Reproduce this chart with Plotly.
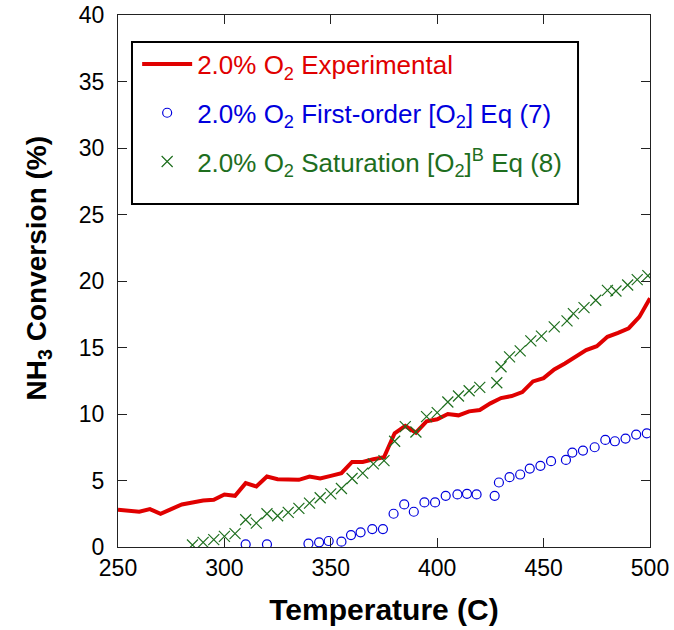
import plotly.graph_objects as go

# Experimental
exp_t = [250, 255, 260, 265, 270, 275, 280, 285, 290, 295, 300, 305, 310, 315, 320, 325, 330, 335, 340, 345,
         350, 355, 360, 365, 370, 375, 380, 385, 390, 395, 400, 405, 410, 415, 420, 425, 430, 435, 440, 445,
         450, 455, 460, 465, 470, 475, 480, 485, 490, 495, 500]
exp_y = [2.8, 2.7, 2.65, 2.85, 2.5, 2.85, 3.2, 3.35, 3.5, 3.55, 3.95, 3.85, 4.8, 4.55, 5.3, 5.1, 5.05, 5.05, 5.3, 5.15,
         5.35, 5.55, 6.4, 6.4, 6.6, 6.75, 8.55, 9.1, 8.6, 9.45, 9.6, 10.0, 9.9, 10.2, 10.3, 10.8, 11.2, 11.35, 11.65, 12.45,
         12.7, 13.35, 13.8, 14.3, 14.8, 15.1, 15.8, 16.1, 16.45, 17.3, 18.7]

# First-order model
fo_t = [310, 320, 339.5, 344.5, 349, 355, 359.5, 364, 369.5, 374.5, 379.5, 384.5, 389, 394, 399, 404, 409.5, 414,
        418.5, 427, 429, 434, 439, 443.5, 448.5, 453.5, 460.5, 463.5, 468.5, 474, 479, 483.5, 488.5, 493.5, 498.5]
fo_y = [0.2, 0.2, 0.25, 0.35, 0.45, 0.4, 0.9, 1.1, 1.35, 1.35, 2.5, 3.2, 2.65, 3.35, 3.35, 3.85, 3.95, 4.0,
        3.95, 3.85, 4.85, 5.25, 5.45, 5.9, 6.1, 6.45, 6.55, 7.1, 7.25, 7.5, 8.05, 7.95, 8.15, 8.45, 8.55]

# Saturation model
sat_t = [285, 290, 295, 300, 305, 310, 315, 320, 325, 330, 335, 340, 345, 350, 355, 360, 365, 370, 375, 380,
         385, 390, 395, 400, 405, 410, 415, 420, 428, 430, 434, 439, 444, 449, 455, 461, 464, 469, 474.5, 480,
         484, 489.5, 494, 499]
sat_y = [0.15, 0.35, 0.55, 0.8, 1.0, 2.05, 1.8, 2.5, 2.35, 2.6, 2.9, 3.3, 3.7, 4.0, 4.4, 5.15, 5.55, 6.25, 6.5, 7.95,
         9.05, 8.65, 9.8, 10.1, 10.9, 11.35, 11.75, 12.0, 12.35, 13.55, 14.3, 14.75, 15.5, 15.85, 16.55, 17.0, 17.55, 18.0, 18.55, 19.3,
         19.25, 19.7, 20.1, 20.4]

x_ticks = [250, 300, 350, 400, 450, 500]
y_ticks = [0, 5, 10, 15, 20, 25, 30, 35, 40]

RED = "#E00000"
BLUE = "#0000DD"
GREEN = "#1E6E1E"
FONT = "Liberation Sans, Arial, sans-serif"


def colored(text, color):
    return "<span style='color:" + color + "'>" + text + "</span>"


fig = go.Figure()
fig.add_trace(go.Scatter(x=exp_t, y=exp_y, mode="lines", line=dict(color=RED, width=4),
                         name=colored("2.0% O<sub>2</sub> Experimental", RED),
                         legendgroup="a"))
fig.add_trace(go.Scatter(x=fo_t, y=fo_y, mode="markers",
                         marker=dict(symbol="circle-open", size=9, color=BLUE, line=dict(width=1.2)),
                         name=colored("2.0% O<sub>2</sub> First-order [O<sub>2</sub>] Eq (7)", BLUE),
                         legendgroup="b"))
fig.add_trace(go.Scatter(x=sat_t, y=sat_y, mode="markers",
                         marker=dict(symbol="x-thin-open", size=11, color=GREEN, line=dict(width=1.2, color=GREEN)),
                         name=colored("2.0% O<sub>2</sub> Saturation [O<sub>2</sub>]<sup>B</sup> Eq (8)", GREEN),
                         legendgroup="c"))

axis_common = dict(showline=True, linecolor="#222", linewidth=1.2, mirror="ticks", ticks="inside",
                   ticklen=9, tickcolor="#222", showgrid=False, zeroline=False, automargin=False,
                   tickfont=dict(family=FONT, size=23, color="black"))

fig.update_layout(
    width=674, height=630,
    margin=dict(l=118, r=24, t=15, b=83, autoexpand=False),
    plot_bgcolor="white", paper_bgcolor="white",
    font=dict(family=FONT, color="black"),
    xaxis=dict(range=[250, 500], tickvals=x_ticks, ticktext=[str(v) for v in x_ticks],
               title=dict(text="<b>Temperature (C)</b>", font=dict(family=FONT, size=30), standoff=19),
               **axis_common),
    yaxis=dict(range=[0, 40], tickvals=y_ticks, ticktext=[str(v) for v in y_ticks],
               ticklabelstandoff=8, **axis_common),
    legend=dict(x=0.036, y=0.952, xanchor="left", yanchor="top", borderwidth=0,
                bgcolor="rgba(0,0,0,0)", font=dict(family=FONT, size=26), tracegroupgap=12, itemwidth=50),
    showlegend=True,
    shapes=[dict(type="rect", xref="paper", yref="paper", x0=0.0263, x1=0.8647, y0=0.6447, y1=0.9492,
                 line=dict(color="black", width=2), fillcolor="white", layer="below")],
    annotations=[dict(text="<b>NH<sub>3</sub> Conversion (%)</b>", textangle=-90, showarrow=False,
                      xref="paper", yref="paper", x=-0.15, y=0.524, xanchor="center", yanchor="middle",
                      font=dict(family=FONT, size=28, color="black"))],
)

fig.write_html("out.html")
